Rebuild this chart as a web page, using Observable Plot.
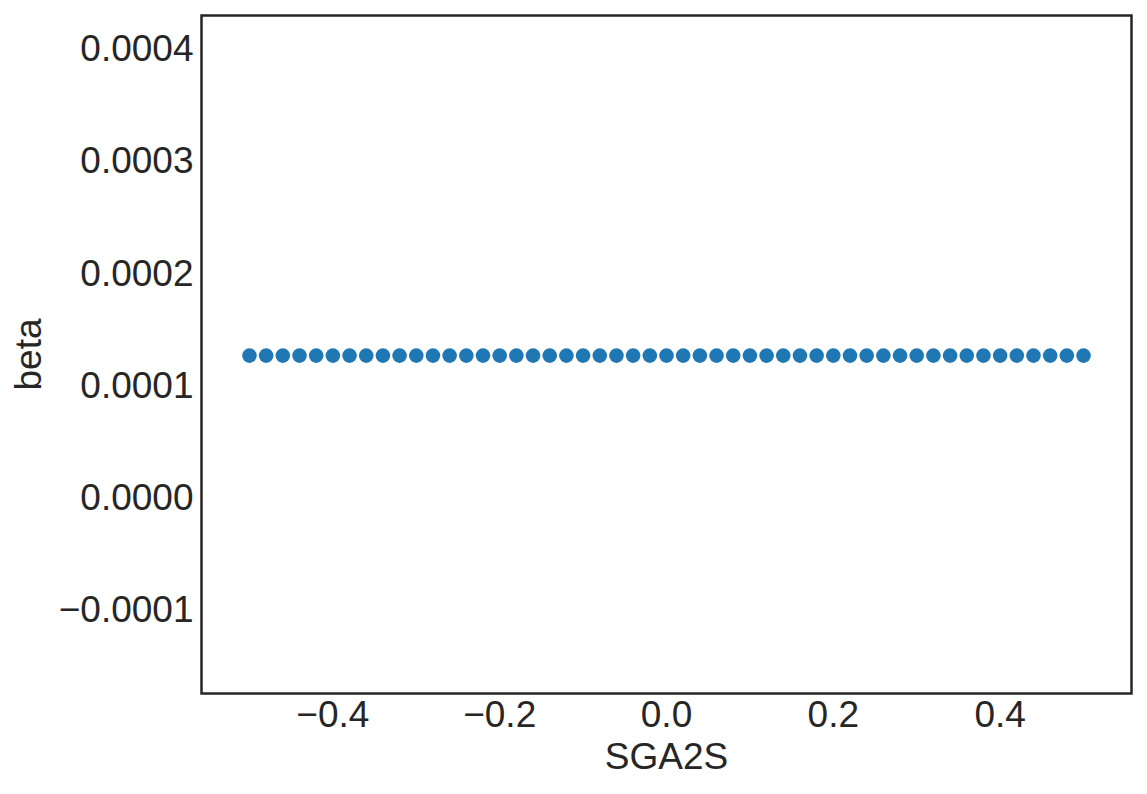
<!DOCTYPE html>
<html>
<head>
<meta charset="utf-8">
<script src="https://cdn.jsdelivr.net/npm/d3@7"></script>
<script src="https://cdn.jsdelivr.net/npm/@observablehq/plot@0.6"></script>
<style>
  html, body { margin: 0; padding: 0; background: #ffffff; }
  #chart { width: 1147px; height: 794px; }
</style>
</head>
<body>
<div id="chart"></div>
<script>
const sga2s = [
  -0.50, -0.48, -0.46, -0.44, -0.42, -0.40, -0.38, -0.36, -0.34, -0.32,
  -0.30, -0.28, -0.26, -0.24, -0.22, -0.20, -0.18, -0.16, -0.14, -0.12,
  -0.10, -0.08, -0.06, -0.04, -0.02, 0.00, 0.02, 0.04, 0.06, 0.08,
  0.10, 0.12, 0.14, 0.16, 0.18, 0.20, 0.22, 0.24, 0.26, 0.28,
  0.30, 0.32, 0.34, 0.36, 0.38, 0.40, 0.42, 0.44, 0.46, 0.48, 0.50
];
const beta = [
  0.000127, 0.000127, 0.000127, 0.000127, 0.000127, 0.000127, 0.000127, 0.000127, 0.000127, 0.000127,
  0.000127, 0.000127, 0.000127, 0.000127, 0.000127, 0.000127, 0.000127, 0.000127, 0.000127, 0.000127,
  0.000127, 0.000127, 0.000127, 0.000127, 0.000127, 0.000127, 0.000127, 0.000127, 0.000127, 0.000127,
  0.000127, 0.000127, 0.000127, 0.000127, 0.000127, 0.000127, 0.000127, 0.000127, 0.000127, 0.000127,
  0.000127, 0.000127, 0.000127, 0.000127, 0.000127, 0.000127, 0.000127, 0.000127, 0.000127, 0.000127, 0.000127
];
const xTicks = [-0.4, -0.2, 0.0, 0.2, 0.4];
const yTicks = [-0.0001, 0.0000, 0.0001, 0.0002, 0.0003, 0.0004];
const xLabel = "SGA2S";
const yLabel = "beta";

const data = sga2s.map((x, i) => ({x, y: beta[i]}));
const ink = "#262626";
const font = "'Liberation Sans', Arial, sans-serif";
const fs = 37;

const chart = Plot.plot({
  width: 1147,
  height: 794,
  marginLeft: 201,
  marginRight: 16,
  marginTop: 15,
  marginBottom: 101,
  style: {fontFamily: font, fontSize: fs + "px", color: ink, background: "#ffffff"},
  x: {domain: [-0.5575, 0.5575]},
  y: {domain: [-0.000174, 0.00043]},
  marks: [
    Plot.dot(data, {x: "x", y: "y", r: 7.3, fill: "#1f77b4", stroke: null}),
    Plot.axisX({ticks: xTicks, tickSize: 0, tickPadding: 7, tickFormat: d3.format(".1f"), label: null, fontSize: fs, fill: ink}),
    Plot.axisY({ticks: yTicks, tickSize: 0, tickPadding: 8, tickFormat: d3.format(".4f"), label: null, fontSize: fs, fill: ink}),
    Plot.text([xLabel], {frameAnchor: "bottom", lineAnchor: "middle", textAnchor: "middle", dy: 64, text: d => d, fontSize: fs, fill: ink}),
    Plot.text([yLabel], {frameAnchor: "left", lineAnchor: "middle", textAnchor: "middle", dx: -172, rotate: -90, text: d => d, fontSize: fs, fill: ink}),
    Plot.frame({stroke: ink, strokeWidth: 2.5})
  ]
});
document.getElementById("chart").appendChild(chart);
</script>
</body>
</html>
